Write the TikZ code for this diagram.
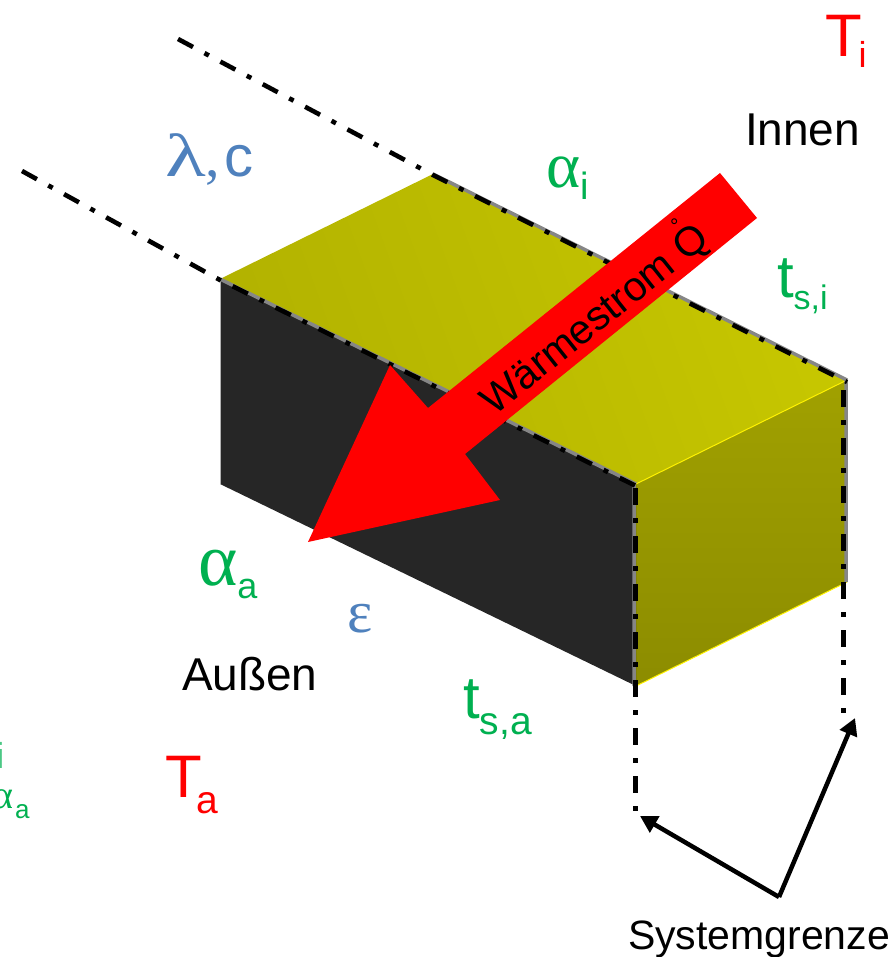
\documentclass[tikz,border=0pt]{standalone}
\usepackage{fontspec}
\setmainfont{Liberation Sans}
\newfontfamily\grk{Liberation Serif}
\usetikzlibrary{arrows.meta}
\definecolor{hred}{HTML}{FF0000}
\definecolor{hgreen}{HTML}{00B050}
\definecolor{hblue}{HTML}{4F81BD}
\newcommand{\sz}[1]{\fontsize{#1}{#1}\selectfont}
\newcommand{\sub}[3]{\raisebox{-#1pt}{\sz{#2}#3}}
\tikzset{
  x=1pt,y=-1pt,
  lbl/.style={anchor=base west,inner sep=0pt,outer sep=0pt},
  sysline/.style={black,line width=5pt,dash pattern=on 17pt off 13pt on 5pt off 13pt},
  systhin/.style={black,line width=4.6pt,dash pattern=on 17pt off 13pt on 5pt off 13pt},
  greyedge/.style={draw=gray!95,line width=3.5pt},
  pointer/.style={black,line width=4.5pt,-{Triangle[length=17pt,width=18pt]}},
}
\begin{document}
\begin{tikzpicture}
\useasboundingbox (0,0) rectangle (894,957);
% named corners
\coordinate (tl) at (220,279);
\coordinate (tb) at (433,174);
\coordinate (tr) at (847,380);
\coordinate (tf) at (636,484);
\coordinate (bl) at (220,484);
\coordinate (bf) at (636,686);
\coordinate (br) at (847,582);
% faces
\path[left color=yellow!70!black,right color=yellow!78!black,shading angle=110] (tl)--(tb)--(tr)--(tf)--cycle;
\path[top color=yellow!63!black,bottom color=yellow!55!black] (tf)--(tr)--(br)--(bf)--cycle;
\draw[yellow,line width=1pt] (tf)--(tr) (bf)--(br);
\fill[black!85] (tl)--(tf)--(bf)--(bl)--cycle;
% grey edges
\coordinate (gl) at (634,484);
\coordinate (gl1) at (634,686);
\coordinate (gr) at (846,380);
\coordinate (gr1) at (846,582);
\draw[greyedge] (tl)--(tf) (gl)--(gl1) (tb)--(tr) (gr)--(gr1);
\draw[gray!60,line width=1pt] (tl)--(bl);
% system boundary lines
\coordinate (u0) at (178,39);
\coordinate (u1) at (433,175);
\coordinate (u2) at (847,382);
\coordinate (l0) at (22,171);
\coordinate (l1) at (220,280);
\coordinate (l2) at (636,486);
\coordinate (vl) at (635,484);
\coordinate (vl1) at (635,811);
\coordinate (vr) at (843,382);
\coordinate (vr1) at (843,714);
\draw[systhin] (u0)--(u1)--(u2);
\draw[systhin] (l0)--(l1)--(l2);
\draw[sysline,dash phase=44pt] (vl)--(vl1);
\draw[sysline,dash phase=40pt] (vr)--(vr1);
% heat-flow arrow
\fill[hred] (720,173)--(757,218)--(465,454)--(500,500)--(308,542)--(390,365)--(428,408)--cycle;
\node[rotate=38.6,anchor=center,inner sep=0pt,font=\sz{41}] (flow) at (592,316)
  {Wärmestrom Q\llap{\raisebox{28pt}{\hbox to 0.778em{\hss\sz{21}°\hss}}}};
% texts
\node[lbl,text=hred,font=\sz{60}] (ti) at (825,57) {T\kern-3pt\sub{11}{36}{i}};
\node[lbl,font=\sz{46}] (innen) at (745,146) {Innen};
\node[lbl,text=hblue,font=\sz{58}] (lam) at (165,177) {\scalebox{1.45}[1.05]{\grk λ}{\grk,}\kern4pt c};
\node[lbl,text=hgreen,font=\sz{60}] (ai) at (546,188) {{\grk\sz{65}α}\sub{12}{38}{i}};
\node[lbl,text=hgreen,font=\sz{60}] (tsi) at (777,297) {t\sub{13}{34}{s,i}};
\node[lbl,text=hgreen,font=\sz{60}] (aa) at (198,585) {{\grk\sz{75}α}\sub{13}{36}{a}};
\node[lbl,text=hblue,font=\sz{60}] (eps) at (347,632) {{\grk ε}};
\node[lbl,font=\sz{46}] (aus) at (182,690) {Außen};
\node[lbl,text=hgreen,font=\sz{60}] (tsa) at (463,718) {t\sub{16}{39}{s,a}};
\node[lbl,text=hred,font=\sz{60}] (ta) at (165,797) {T\kern-5pt\sub{16}{39}{a}};
\begin{scope}
\clip (0,0) rectangle (894,957);
\node[lbl,text=hgreen!70,font=\sz{36}] (fi) at (-3.5,768) {i};
\node[lbl,text=hgreen,font=\sz{40}] (fa) at (-7,808) {{\grk α}};
\node[lbl,text=hgreen,font=\sz{26}] (fb) at (15,818) {a};
\end{scope}
\node[lbl,font=\sz{41}] (sys) at (628,949) {Systemgrenze};
% pointers
\coordinate (fork) at (779,897);
\coordinate (pl) at (640,816);
\coordinate (pr) at (855,718);
\draw[pointer] (fork)--(pl);
\draw[pointer] (fork)--(pr);
\end{tikzpicture}
\end{document}
